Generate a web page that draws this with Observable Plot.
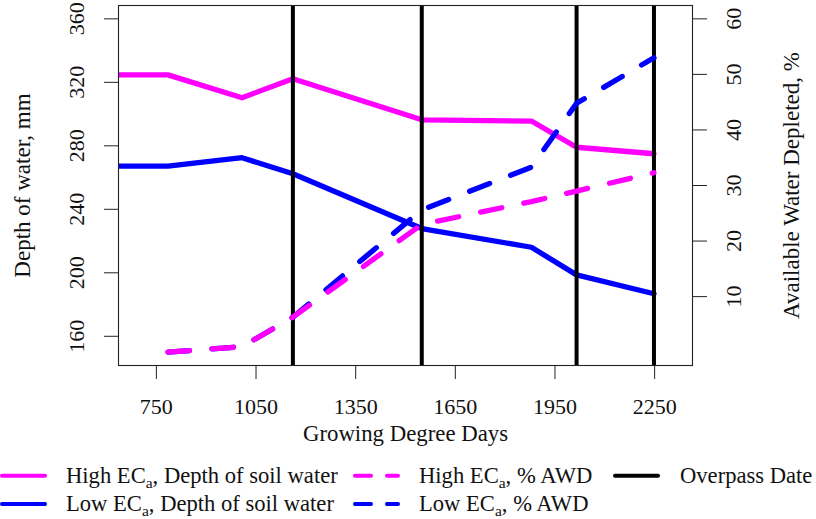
<!DOCTYPE html>
<html>
<head>
<meta charset="utf-8">
<script src="https://cdn.jsdelivr.net/npm/d3@7"></script>
<script src="https://cdn.jsdelivr.net/npm/@observablehq/plot@0.6"></script>
<style>
  body { margin: 0; background: #fff; }
  #chart { width: 816px; height: 519px; position: relative; background: #fff; }
  #chart svg { display: block; }
</style>
</head>
<body>
<div id="chart"></div>
<script>
// Growing degree days at each sampling date
const gdd = [620, 785, 1008, 1161, 1549, 1879, 2015, 2248];
// Depth of soil water, mm
const highDepth = [324.7, 324.7, 310.3, 322.2, 296.4, 295.6, 279.1, 275.0];
const lowDepth  = [267.2, 267.2, 272.5, 262.4, 227.9, 216.1, 198.7, 186.8];
// Available water depleted, %, from the second sampling date on
const awdGdd  = [785, 1008, 1161, 1549, 1879, 2015, 2248];
const highAwd = [0, 1.0, 6.3, 23.0, 27.1, 29.0, 32.3];
const lowAwd  = [0, 1.0, 6.3, 25.6, 33.3, 44.8, 53.0];
// Satellite overpass dates, GDD
const overpassGdd = [1161, 1549, 2015, 2248];

// Axis ticks
const gddTicks = [750, 1050, 1350, 1650, 1950, 2250];
const depthTicks = [160, 200, 240, 280, 320, 360];
const awdTicks = [10, 20, 30, 40, 50, 60];

// Axis limits, widened by 4% on each side
const gddLim = [700, 2300];
const depthLim = [150, 360];
const awdLim = [0, 60];
const widen = ([a, b]) => { const e = (b - a) * 0.04; return [a - e, b + e]; };
const xDomain = widen(gddLim);
const yDomain = widen(depthLim);
const awdDomain = widen(awdLim);
// the % series share the depth scale through this mapping
const awdToDepth = d3.scaleLinear(awdDomain, yDomain);

const MAGENTA = "#ff00ff", BLUE = "#0000ff";
const FONT = "'Liberation Serif', 'Times New Roman', serif";
const FS = 22;      // tick labels
const TFS = 23;     // axis titles

const depthRows = (vals) => gdd.map((g, i) => ({g, v: vals[i]}));
const awdRows = (vals) => awdGdd.map((g, i) => ({g, v: awdToDepth(vals[i])}));

const solid = {x: "g", y: "v", strokeWidth: 5.3, strokeLinecap: "round", strokeLinejoin: "round", clip: true};
const dashed = {...solid, strokeDasharray: "21.5,22.5"};
const tickText = {fontSize: FS, fill: "#111", textAnchor: "middle", lineAnchor: "middle"};
const titleText = {...tickText, fontSize: TFS};

const plot = Plot.plot({
  width: 816,
  height: 450,
  marginLeft: 118,
  marginRight: 124,
  marginTop: 5,
  marginBottom: 85,
  style: {fontFamily: FONT, fontSize: FS + "px", color: "#111", background: "#fff", overflow: "visible"},
  x: {domain: xDomain, axis: null},
  y: {domain: yDomain, axis: null},
  marks: [
    Plot.line(depthRows(highDepth), {...solid, stroke: MAGENTA}),
    Plot.line(depthRows(lowDepth), {...solid, stroke: BLUE}),
    Plot.ruleX(overpassGdd, {stroke: "#000", strokeWidth: 4}),
    Plot.line(awdRows(lowAwd), {...dashed, stroke: BLUE}),
    Plot.line(awdRows(highAwd), {...dashed, stroke: MAGENTA}),
    Plot.frame({stroke: "#222", strokeWidth: 1.1}),
    // bottom axis
    Plot.axisX(gddTicks, {anchor: "bottom", tickSize: 14, tickPadding: 19, stroke: "#222", fill: "#111",
      fontSize: FS, label: null, tickFormat: d => String(d)}),
    Plot.text(["Growing Degree Days"], {...titleText, fontSize: 22.8, frameAnchor: "bottom", dy: 68}),
    // left axis
    Plot.axisY(depthTicks, {anchor: "left", tickSize: 14, stroke: "#222", fill: "none", label: null, tickFormat: () => ""}),
    Plot.text(depthTicks, {...tickText, y: d => d, text: d => String(d), frameAnchor: "left", dx: -41.5, rotate: -90}),
    Plot.text(["Depth of water, mm"], {...titleText, frameAnchor: "left", dx: -96, rotate: -90}),
    // right axis
    Plot.axisY(awdTicks.map(awdToDepth), {anchor: "right", tickSize: 14, stroke: "#222", fill: "none", label: null, tickFormat: () => ""}),
    Plot.text(awdTicks, {...tickText, y: d => awdToDepth(d), text: d => String(d), frameAnchor: "right", dx: 41.5, rotate: -90}),
    Plot.text(["Available Water Depleted, %"], {...titleText, frameAnchor: "right", dx: 99, rotate: -90})
  ]
});
document.getElementById("chart").appendChild(plot);

// Legend below the plot
const legendItems = [
  {row: 0, x: 2, color: MAGENTA, dash: null, name: "High EC", rest: ", Depth of soil water"},
  {row: 1, x: 2, color: BLUE, dash: null, name: "Low EC", rest: ", Depth of soil water"},
  {row: 0, x: 355, color: MAGENTA, dash: "16,16", name: "High EC", rest: ", % AWD"},
  {row: 1, x: 355, color: BLUE, dash: "16,16", name: "Low EC", rest: ", % AWD"},
  {row: 0, x: 615, color: "#000", dash: null, name: "Overpass Date", rest: null}
];
const rowY = [25.7, 54];
const LFS = 22.6;
const legend = d3.create("svg").attr("width", 816).attr("height", 69)
  .style("font-family", FONT).style("font-size", LFS + "px");
for (const it of legendItems) {
  const y = rowY[it.row];
  legend.append("line")
    .attr("x1", it.x).attr("x2", it.x + 43).attr("y1", y).attr("y2", y)
    .attr("stroke", it.color).attr("stroke-width", 4).attr("stroke-linecap", "round")
    .attr("stroke-dasharray", it.dash);
  const t = legend.append("text").attr("x", it.x + (it.rest ? 64 : 65)).attr("y", y + 7.3).attr("fill", "#111");
  t.append("tspan").text(it.name);
  if (it.rest) {
    t.append("tspan").attr("font-size", "15.5px").attr("dy", 4.5).text("a");
    t.append("tspan").attr("dy", -4.5).text(it.rest);
  }
}
document.getElementById("chart").appendChild(legend.node());
</script>
</body>
</html>
